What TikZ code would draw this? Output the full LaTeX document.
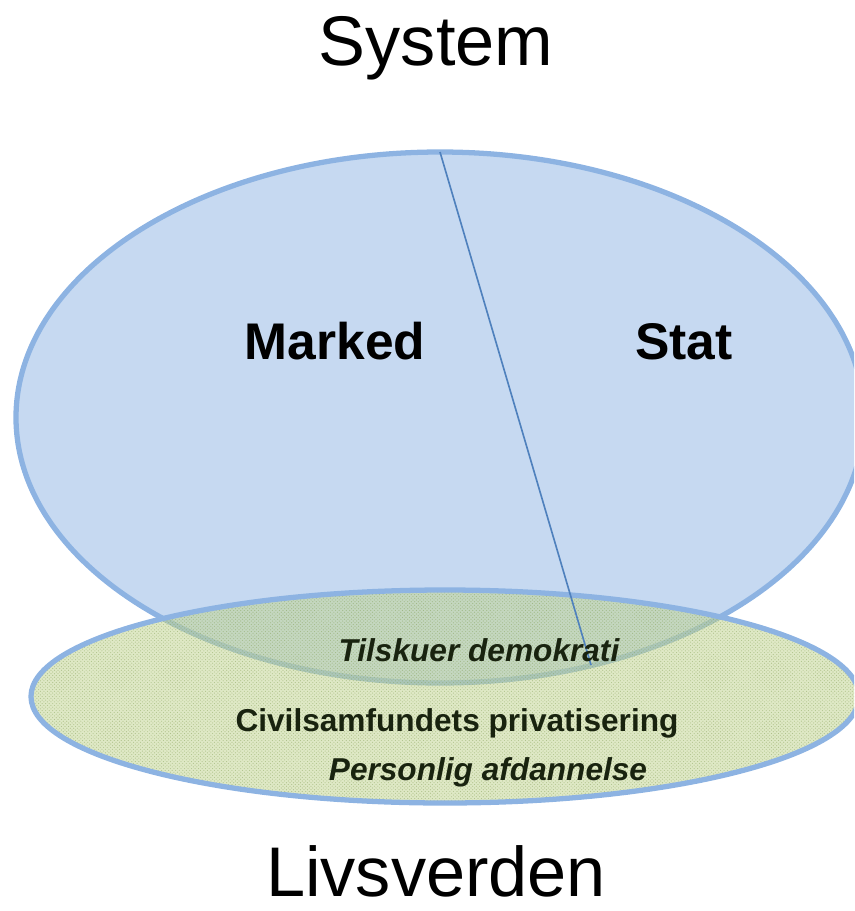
\documentclass[tikz,border=0pt]{standalone}
\usepackage{fontspec}
\setmainfont{Liberation Sans}
\usetikzlibrary{patterns}
\definecolor{systemfill}{RGB}{198,217,241}
\definecolor{systemline}{RGB}{141,179,226}
\definecolor{skillelinje}{RGB}{79,129,189}
\definecolor{livsfill}{RGB}{196,214,150}
\definecolor{prikker}{RGB}{120,150,70}
\definecolor{teksten}{RGB}{25,35,15}
\tikzset{
	overskrift/.style={anchor=base, inner sep=0pt, font=\fontsize{60}{60}\selectfont},
	felt/.style={anchor=base, inner sep=0pt, font=\fontsize{44}{44}\selectfont\bfseries},
	livstekst/.style={anchor=base, inner sep=0pt, text=teksten, font=\fontsize{27}{27}\selectfont\bfseries}
}

\begin{document}
\begin{tikzpicture}[x=0.03cm, y=-0.03cm]
		%%%%% START %%%%%
		\useasboundingbox (0, 0) rectangle (854, 911);
		\begin{scope}
		\clip (0, 0) rectangle (854, 911);
		
		% systemet
		\draw[fill=systemfill, draw=systemline, line width=4.5pt] (440, 417.5) ellipse [x radius=424, y radius=265.5];
		
		% livsverdenen
		\fill[livsfill, fill opacity=0.55] (445, 696.5) ellipse [x radius=414, y radius=106.5];
		\fill[pattern=crosshatch dots, pattern color=prikker, opacity=0.45] (445, 696.5) ellipse [x radius=414, y radius=106.5];
		\draw[systemline, line width=4.5pt] (445, 696.5) ellipse [x radius=414, y radius=106.5];
		\end{scope}
		
		\coordinate (top) at (440, 152);
		\coordinate (bund) at (591, 665);
		\draw[skillelinje, line width=1.4pt] (top) -- (bund);
		
		\node[overskrift] (system) at (436, 65) {System};
		\node[overskrift] (livsverden) at (436, 896) {Livsverden};
		\node[felt] (marked) at (335, 359) {Marked};
		\node[felt] (stat) at (684, 359) {Stat};
		\node[livstekst] (tilskuer) at (479, 661) {\itshape Tilskuer demokrati};
		\node[livstekst] (civil) at (457, 731) {Civilsamfundets privatisering};
		\node[livstekst] (personlig) at (488, 780) {\itshape Personlig afdannelse};
		%%%%% END %%%%%
	\end{tikzpicture}
\end{document}
